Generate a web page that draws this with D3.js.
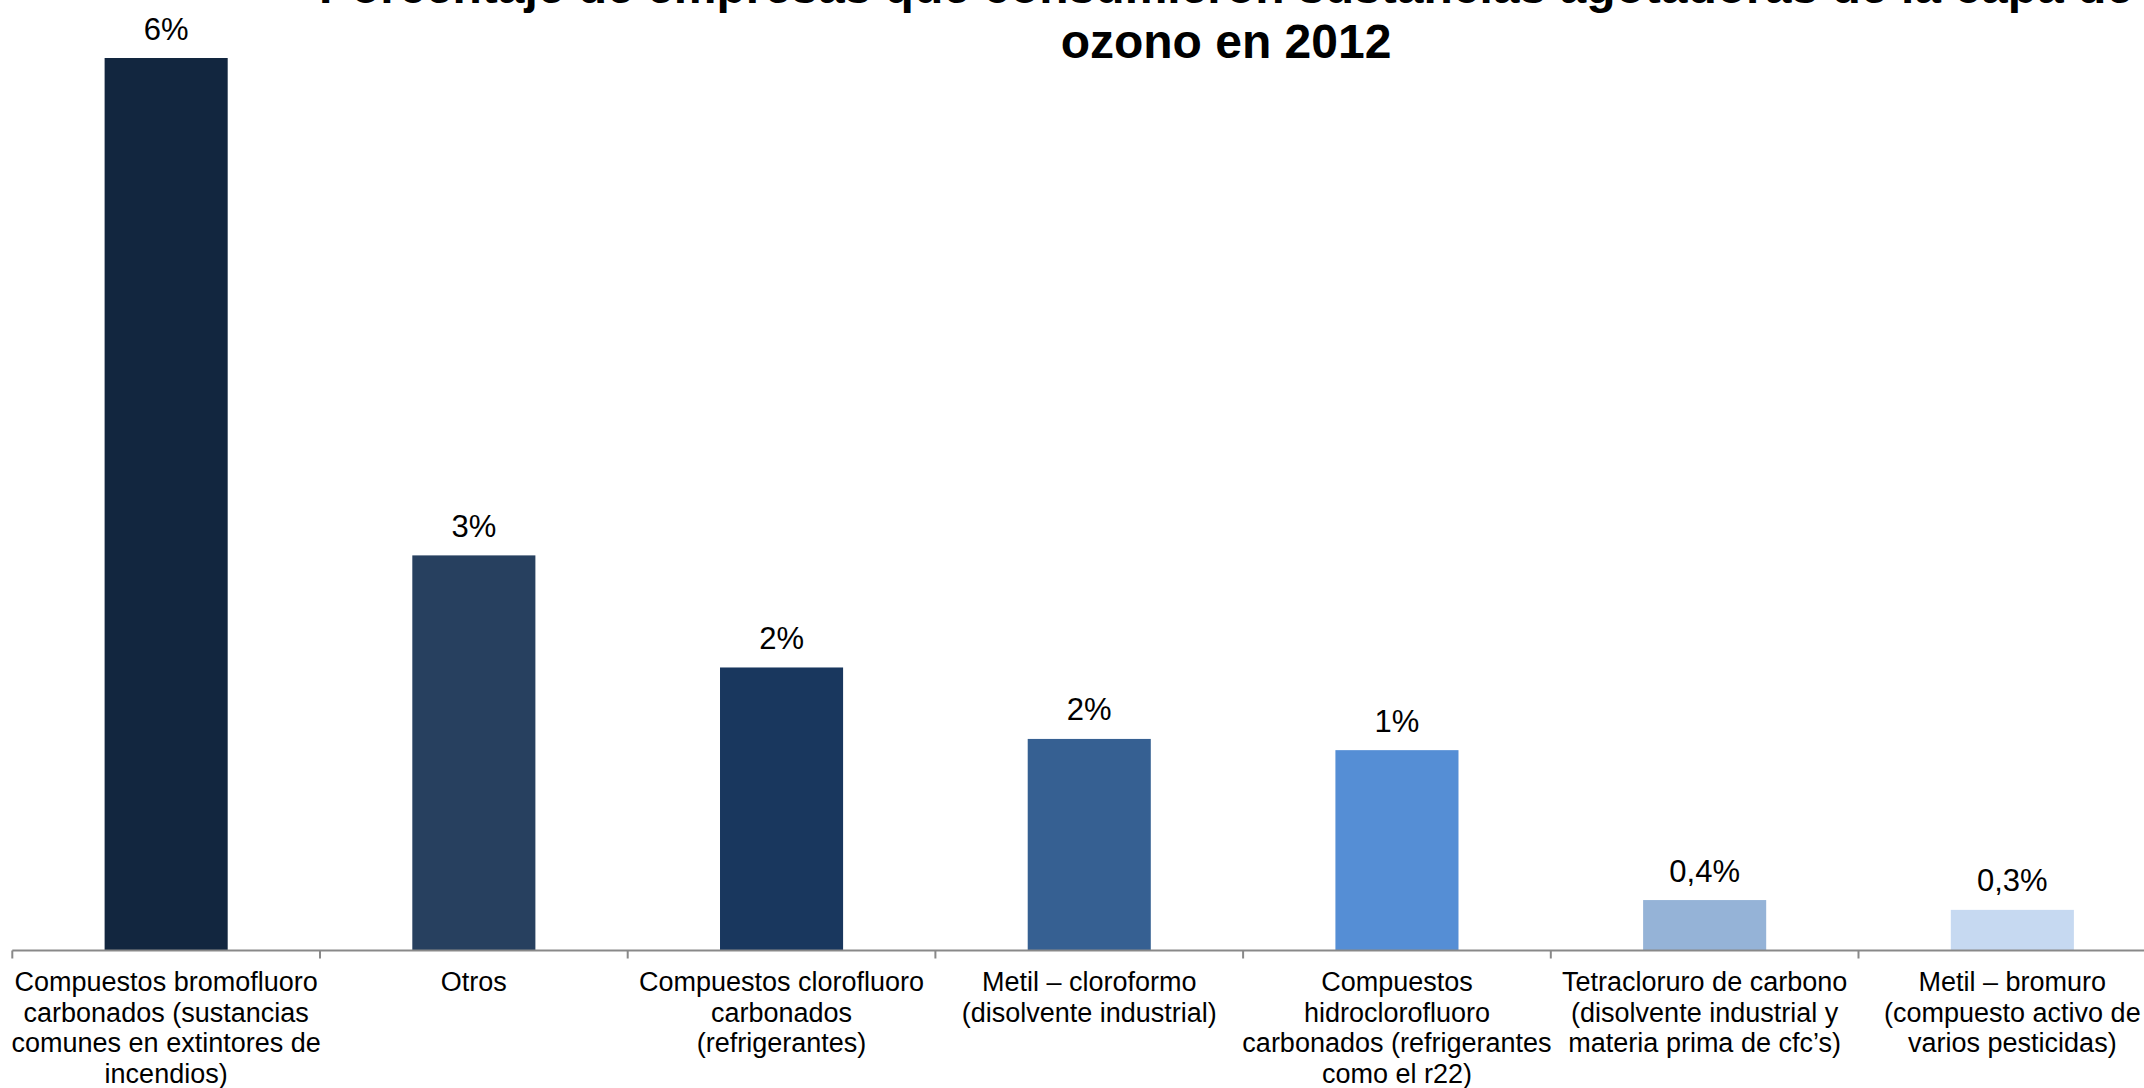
<!DOCTYPE html>
<html>
<head>
<meta charset="utf-8">
<script src="https://cdn.jsdelivr.net/npm/d3@7"></script>
<style>
  html, body { margin: 0; padding: 0; background: #ffffff; }
  svg { display: block; font-family: "Liberation Sans", Arial, sans-serif; }
</style>
</head>
<body>
<svg id="chart" width="2144" height="1088"></svg>
<script>
const titleLines = [
  "Porcentaje de empresas que consumieron sustancias agotadoras de la capa de",
  "ozono en 2012"
];
const categories = [
  "Compuestos bromofluoro carbonados (sustancias comunes en extintores de incendios)",
  "Otros",
  "Compuestos clorofluoro carbonados (refrigerantes)",
  "Metil – cloroformo (disolvente industrial)",
  "Compuestos hidroclorofluoro carbonados (refrigerantes como el r22)",
  "Tetracloruro de carbono (disolvente industrial y materia prima de cfc’s)",
  "Metil – bromuro (compuesto activo de varios pesticidas)"
];
const categoryLines = [
  ["Compuestos bromofluoro", "carbonados (sustancias", "comunes en extintores de", "incendios)"],
  ["Otros"],
  ["Compuestos clorofluoro", "carbonados", "(refrigerantes)"],
  ["Metil – cloroformo", "(disolvente industrial)"],
  ["Compuestos", "hidroclorofluoro", "carbonados (refrigerantes", "como el r22)"],
  ["Tetracloruro de carbono", "(disolvente industrial y", "materia prima de cfc’s)"],
  ["Metil – bromuro", "(compuesto activo de", "varios pesticidas)"]
];
const values = [6.37, 2.82, 2.02, 1.51, 1.43, 0.36, 0.29];
const valueLabels = ["6%", "3%", "2%", "2%", "1%", "0,4%", "0,3%"];
const barColors = ["#12263F", "#27405F", "#19375E", "#366092", "#558ED5", "#95B3D7", "#C6D9F1"];

const svg = d3.select("#chart");
const W = 2144, H = 1088;
const axisY = 950.5;

const x = d3.scaleBand().domain(categories).range([12.3, 2166.2]).padding(0);
const y = d3.scaleLinear().domain([0, 6.37]).range([axisY, 58]);
const step = x.step();

// Title
svg.append("g").selectAll("text").data(titleLines).join("text")
  .attr("x", 1226)
  .attr("y", (d, i) => 3 + i * 55)
  .attr("text-anchor", "middle")
  .attr("font-size", 48)
  .attr("font-weight", "bold")
  .attr("fill", "#000")
  .text(d => d);

// Bars
svg.append("g").selectAll("rect").data(categories).join("rect")
  .attr("x", d => x(d) + step * 0.3)
  .attr("width", step * 0.4)
  .attr("y", (d, i) => y(values[i]))
  .attr("height", (d, i) => axisY - y(values[i]))
  .attr("fill", (d, i) => barColors[i]);

// Value labels
svg.append("g").selectAll("text").data(categories).join("text")
  .attr("x", d => x(d) + step / 2)
  .attr("y", (d, i) => y(values[i]) - 18.5)
  .attr("text-anchor", "middle")
  .attr("font-size", 31)
  .attr("fill", "#000")
  .text((d, i) => valueLabels[i]);

// Axis line and ticks
const axis = svg.append("g");
axis.append("line")
  .attr("x1", x.range()[0]).attr("x2", W)
  .attr("y1", axisY).attr("y2", axisY)
  .attr("stroke", "#898989").attr("stroke-width", 2);
const boundaries = categories.map(c => x(c)).concat([x.range()[1]]);
axis.selectAll("line.tick").data(boundaries).join("line")
  .attr("class", "tick")
  .attr("x1", d => d).attr("x2", d => d)
  .attr("y1", axisY).attr("y2", axisY + 8)
  .attr("stroke", "#898989").attr("stroke-width", 2);

// Category labels
const lab = svg.append("g").selectAll("text").data(categories).join("text")
  .attr("text-anchor", "middle")
  .attr("font-size", 27)
  .attr("fill", "#000");
lab.each(function(d, i) {
  const t = d3.select(this);
  categoryLines[i].forEach((line, j) => {
    t.append("tspan")
      .attr("x", x(d) + step / 2)
      .attr("y", 991 + j * 30.7)
      .text(line);
  });
});
</script>
</body>
</html>
